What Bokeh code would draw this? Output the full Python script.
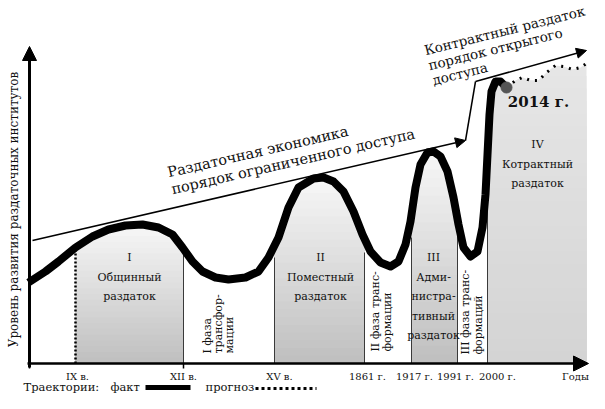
import numpy as np
from bokeh.plotting import figure
from bokeh.models import Range1d, Arrow, NormalHead
from bokeh.core.properties import value
from bokeh.embed import file_html
from bokeh.resources import INLINE

FONT = "'DejaVu Serif', serif"

# ---------------- data (schematic: x = position on time axis, y = level of development) -------------
curve_x = [28, 45, 58, 75, 92, 108, 125, 142, 158, 172, 182, 192, 202, 215, 228, 245, 258, 268, 278,
           288, 298, 313, 323, 333, 343, 353, 362, 370, 380, 390, 398, 405, 410, 415, 420, 427, 433,
           440, 447, 453, 458, 463, 470, 477, 482, 485, 487, 489, 491, 495, 500, 506]
curve_y = [81, 92, 102, 116, 127, 134, 138, 139, 136, 129, 116, 102, 92, 86, 84, 86, 92, 106, 126,
           156, 176, 185, 186, 182, 172, 152, 129, 112, 101, 97, 102, 119, 142, 176, 199, 211, 212,
           207, 192, 166, 139, 116, 107, 112, 136, 169, 209, 249, 272, 282, 282, 276]
forecast_x = [506, 515, 522, 530, 538, 546, 555, 563, 572, 580, 586]
forecast_y = [276, 283, 286, 283, 283, 291, 298, 297, 294, 296, 300]

# trend of institutional order
trend1_x = [32, 465]
trend1_y = [123, 223]
trend2_x = [465, 475, 586]
trend2_y = [223, 282, 313]

# period boundaries and their upper ends
bound_x = [75, 183, 274, 364, 411, 457, 487]
bound_top = [119, 116, 106, 111, 126, 139, 229]

# shaded periods (gray)
shaded_periods = [(75, 183), (274, 364), (411, 457)]
contract_period = (487, 586)

tick_x = [77, 183, 279, 367, 414, 455, 497, 575]
tick_labels = ["IX в.", "XII в.", "XV в.", "1861 г.", "1917 г.", "1991 г.", "2000 г.", "Годы"]

region_x = [129, 320, 433, 537]
region_labels = [["I", "Общинный", "раздаток"],
                 ["II", "Поместный", "раздаток"],
                 ["III", "Адми-", "нистра-", "тивный", "раздаток"],
                 ["IV", "Котрактный", "раздаток"]]
region_top = [106, 106, 106, 219]

trans_labels = [["I фаза", "трансфор-", "мации"],
                ["II фаза транс-", "формации"],
                ["III фаза транс-", "формаций"]]
trans_x = [[207, 218, 229], [375, 387], [465, 478]]
trans_start = [10, 12, 9]

trend1_text = ["Раздаточная экономика", "порядок ограниченного доступа"]
trend1_text_x = [167, 171]
trend1_text_y = [191, 174]
trend2_text = ["Контрактный раздаток", "порядок открытого", "доступа"]
trend2_text_x = [424, 428, 432]
trend2_text_y = [313, 298, 283]

y_title = "Уровень развития раздаточных институтов"
legend_texts = ["Траектории:", "факт", "прогноз"]
legend_text_x = [23, 110, 205]

# ---------------- figure ----------------
p = figure(width=589, height=393, output_backend="svg", toolbar_location=None,
           x_axis_type=None, y_axis_type=None,
           x_range=Range1d(0, 589), y_range=Range1d(-30, 363),
           min_border=0, min_border_left=0, min_border_right=0,
           min_border_top=0, min_border_bottom=0)
p.outline_line_color = None
p.grid.visible = False
p.background_fill_color = "white"
p.border_fill_color = "white"


def blend(c1, c2, t):
    r = [int(round(a + (b - a) * t)) for a, b in zip(c1, c2)]
    return "#%02x%02x%02x" % tuple(r)


def grad_fill(x0, x1, bx, by, c_top, c_bot, n=24):
    xd = np.linspace(x0, x1, 120)
    top = np.interp(xd, bx, by)
    hmax = top.max()
    for k in range(n):
        lim = hmax * (1 - k / n)
        col = blend(c_top, c_bot, k / (n - 1))
        p.varea(x=xd, y1=np.zeros_like(xd), y2=np.minimum(top, lim), fill_color=col)


for (a, b) in shaded_periods:
    grad_fill(a, b, curve_x, curve_y, (246, 246, 246), (192, 192, 192))

all_x = curve_x + forecast_x[1:]
all_y = curve_y + forecast_y[1:]
grad_fill(contract_period[0], contract_period[1], all_x, all_y, (230, 230, 230), (212, 212, 212))

# period boundaries
for i, (bx, bt) in enumerate(zip(bound_x, bound_top)):
    if i == 0:
        p.line([bx, bx], [0, bt], line_color="black", line_width=2.5, line_dash="2 2")
    else:
        p.line([bx, bx], [0, bt], line_color="#3a3a3a", line_width=1)

# axes
p.add_layout(Arrow(end=NormalHead(size=14, fill_color="black", line_color="black"),
                   x_start=29, y_start=-4, x_end=29, y_end=317, line_width=3, line_color="black"))
p.add_layout(Arrow(end=NormalHead(size=15, fill_color="black", line_color="black"),
                   x_start=27, y_start=0, x_end=588, y_end=0, line_width=2.5, line_color="black"))
for tx in [29, 183]:
    p.line([tx, tx], [0, -5], line_color="black", line_width=1.5)

# trend lines
p.add_layout(Arrow(end=NormalHead(size=10, fill_color="black", line_color="black"),
                   x_start=trend1_x[0], y_start=trend1_y[0], x_end=trend1_x[1], y_end=trend1_y[1],
                   line_width=1.5, line_color="black"))
p.line(trend2_x[:2], trend2_y[:2], line_color="black", line_width=1.5)
p.add_layout(Arrow(end=NormalHead(size=10, fill_color="black", line_color="black"),
                   x_start=trend2_x[1], y_start=trend2_y[1], x_end=trend2_x[2], y_end=trend2_y[2],
                   line_width=1.5, line_color="black"))

# trajectories
p.line(forecast_x, forecast_y, line_color="black", line_width=3, line_dash="2 6", line_cap="butt")
p.line(curve_x, curve_y, line_color="black", line_width=8, line_join="round", line_cap="butt")
p.scatter([curve_x[-1]], [curve_y[-1]], size=11, marker="circle", fill_color="#555555", line_color="#555555")


# texts
def txt(x, y, t, size, align="center", baseline="middle", angle=0.0, bold=False):
    kw = dict(text_font_style="bold") if bold else {}
    p.text(x=x, y=y, text=t, text_font=value(FONT), text_font_size=value(size),
           text_align=align, text_baseline=baseline, angle=angle, text_color="#111111", **kw)


for rx, labs, top in zip(region_x, region_labels, region_top):
    ys = [top - 19.5 * i for i in range(len(labs))]
    txt([rx] * len(labs), ys, labs, "11px")

for labs, xs, st in zip(trans_labels, trans_x, trans_start):
    txt(xs, [st] * len(labs), labs, "11px", align="left", angle=np.pi / 2)

txt(tick_x, [-13] * len(tick_x), tick_labels, "10px")

txt(trend1_text_x, trend1_text_y, trend1_text, "14.5px", align="left", baseline="alphabetic",
    angle=np.arctan(0.231))
txt(trend2_text_x, trend2_text_y, trend2_text, "13.5px", align="left", baseline="alphabetic",
    angle=np.arctan(0.25))

txt([538], [262], ["2014 г."], "15px", bold=True)

txt([13], [154], [y_title], "12px", angle=np.pi / 2)

# legend
txt(legend_text_x, [-23] * 3, legend_texts, "11.5px", align="left")
p.line([145, 190], [-24, -24], line_color="black", line_width=5)
p.line([255, 316], [-25, -25], line_color="black", line_width=3, line_dash="3 3")

open("out.html", "w").write(file_html(p, INLINE))
